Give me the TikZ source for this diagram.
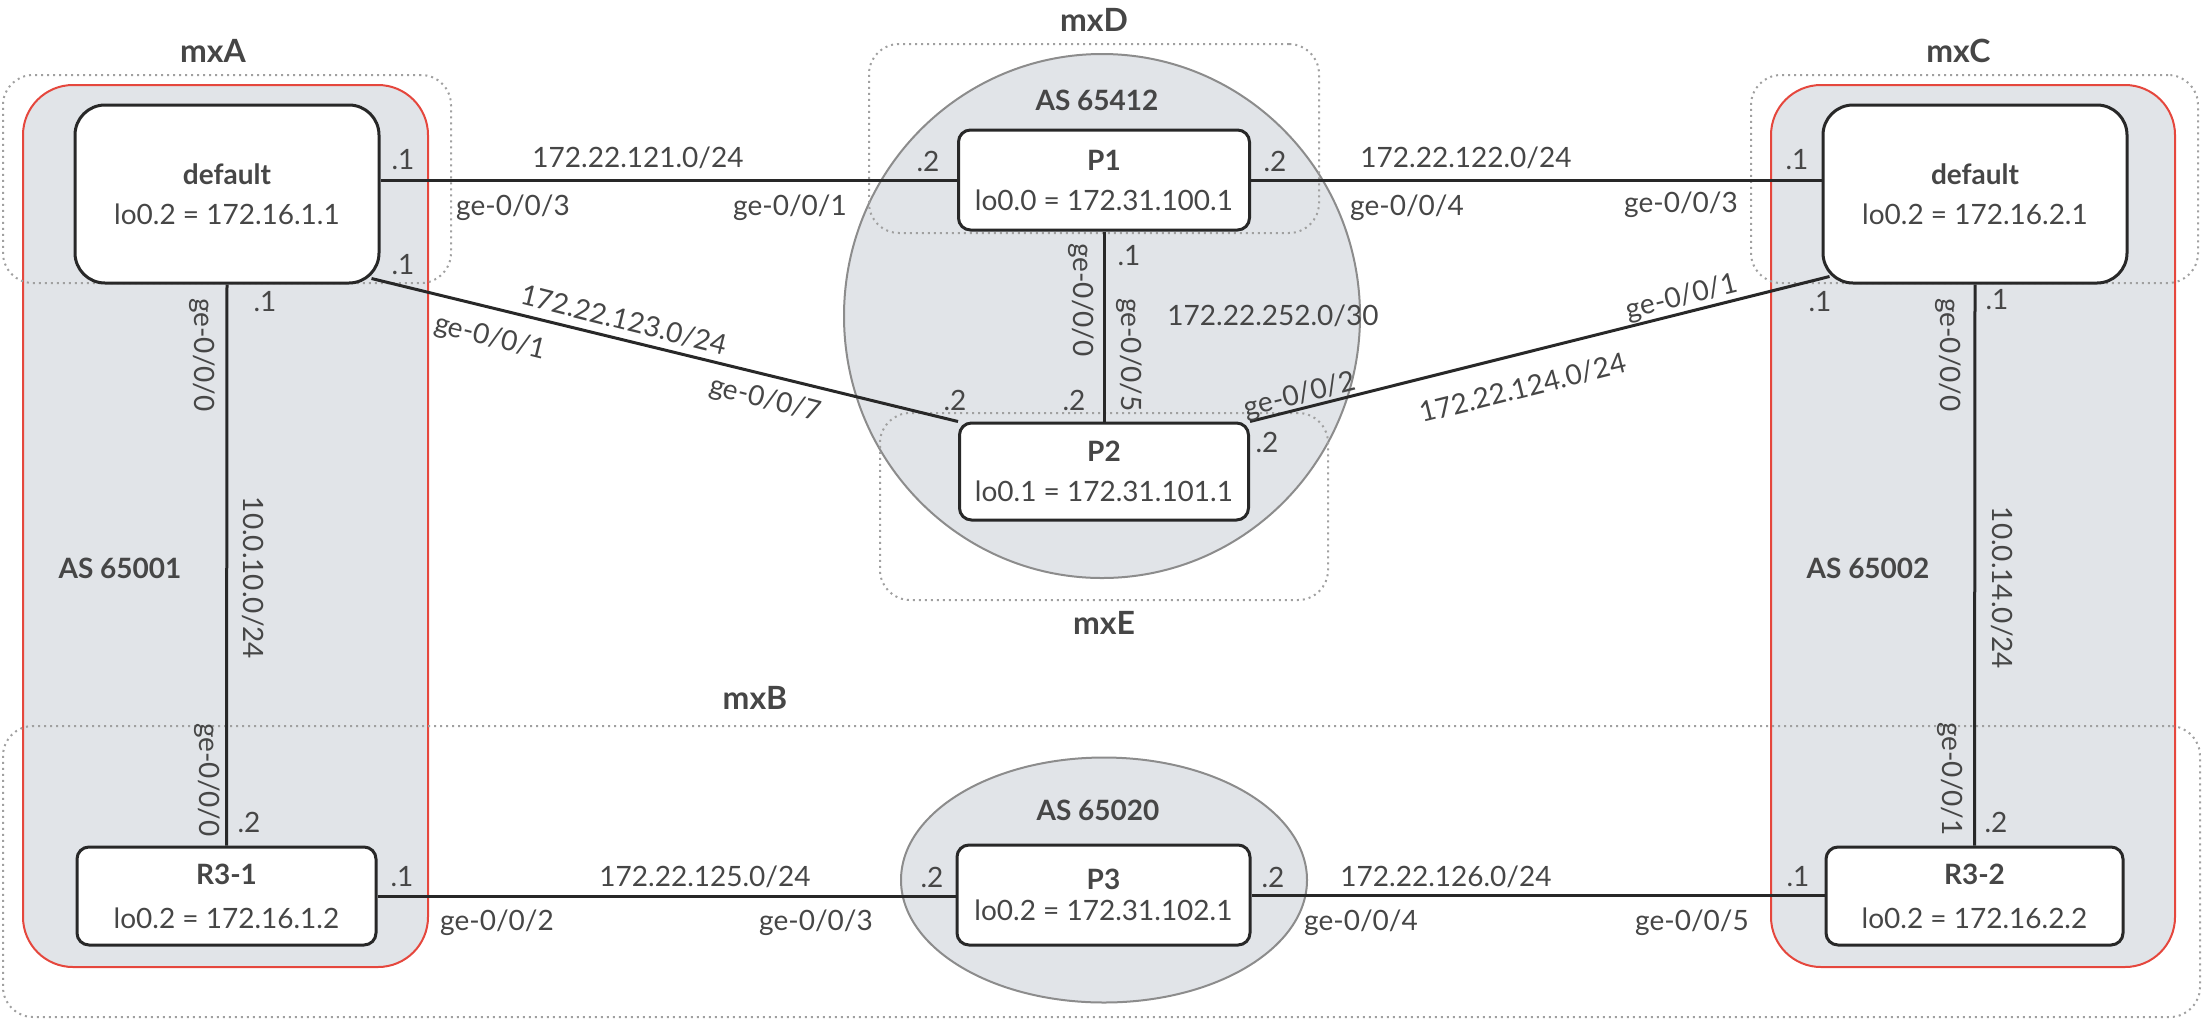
\documentclass[tikz,border=0pt]{standalone}
\usepackage{fontspec}
\setmainfont{Lato}
\usetikzlibrary{positioning,shapes.geometric}

\definecolor{asfill}{RGB}{225,228,232}
\definecolor{asred}{RGB}{229,71,61}
\definecolor{asedge}{RGB}{140,140,140}
\definecolor{mxdot}{RGB}{160,160,160}
\definecolor{txt}{RGB}{70,70,70}
\definecolor{wire}{RGB}{40,40,40}

\tikzset{
  router/.style={draw=wire, line width=1.5pt, fill=white, rounded corners=6pt,
    align=center, inner sep=0pt, text=txt, font=\fontsize{14}{17}\selectfont},
  asbox/.style={draw=asred, line width=1pt, fill=asfill, rounded corners=25pt, inner sep=0pt},
  ascircle/.style={ellipse, draw=asedge, line width=1pt, fill=asfill, inner sep=0pt},
  mxbox/.style={draw=mxdot, line width=1pt, dash pattern=on 1pt off 2pt,
    rounded corners=15pt, inner sep=0pt},
  link/.style={draw=wire, line width=1.5pt},
  lbl/.style={text=txt, font=\fontsize{14}{17}\selectfont, inner sep=0pt},
  grp/.style={text=txt, font=\bfseries\fontsize{16}{19}\selectfont, inner sep=0pt},
  asname/.style={text=txt, font=\bfseries\fontsize{14}{17}\selectfont, inner sep=0pt}
}

\begin{document}
\begin{tikzpicture}[x=0.5pt, y=-0.5pt]
  \useasboundingbox (0,0) rectangle (2206,1024);

  % AS areas
  \node[asbox, minimum width=202.5pt, minimum height=441pt] (asA) at (225.5,526) {};
  \node[asbox, minimum width=202pt, minimum height=441pt] (asC) at (1973,526) {};
  \node[ascircle, minimum width=258pt, minimum height=262pt] (asD) at (1102,316) {};
  \node[ascircle, minimum width=203pt, minimum height=122.5pt] (asB) at (1104,880) {};

  % mx groups
  \node[mxbox, minimum width=224pt, minimum height=104pt] (mxA) at (227,179) {};
  \node[mxbox, minimum width=223.5pt, minimum height=104pt] (mxC) at (1974.5,179) {};
  \node[mxbox, minimum width=225pt, minimum height=94.5pt] (mxD) at (1094,138.5) {};
  \node[mxbox, minimum width=224pt, minimum height=93.5pt] (mxE) at (1104,506.5) {};
  \node[mxbox, minimum width=1098.5pt, minimum height=145.5pt] (mxB) at (1101.5,871.5) {};

  \node[grp, above=5.5pt of mxA, xshift=-7pt] (mxAlbl) {mxA};
  \node[grp, above=5.5pt of mxC, xshift=-8pt] (mxClbl) {mxC};
  \node[grp, above=5.5pt of mxD] (mxDlbl) {mxD};
  \node[grp, below=5pt of mxE] (mxElbl) {mxE};
  \node[grp] (mxBlbl) at (755,698) {mxB};

  \node[asname] (asAlbl) at (120,568) {AS 65001};
  \node[asname] (asClbl) at (1868,568) {AS 65002};
  \node[asname] (asDlbl) at (1097,100) {AS 65412};
  \node[asname] (asBlbl) at (1098,810) {AS 65020};

  % Define nodes
  \node[router, minimum width=152pt, minimum height=89pt, rounded corners=15pt] (dfltA) at (227,194)
    {\textbf{default}\\[3pt] lo0.2 = 172.16.1.1};
  \node[router, minimum width=152pt, minimum height=89pt, rounded corners=15pt] (dfltC) at (1975,194)
    {\textbf{default}\\[3pt] lo0.2 = 172.16.2.1};
  \node[router, minimum width=145.5pt, minimum height=50pt] (P1) at (1104,180)
    {\textbf{P1}\\[3pt] lo0.0 = 172.31.100.1};
  \node[router, minimum width=144.5pt, minimum height=48.5pt] (P2) at (1104,471.5)
    {\textbf{P2}\\[3pt] lo0.1 = 172.31.101.1};
  \node[router, minimum width=146.5pt, minimum height=50pt] (P3) at (1103.5,895)
    {\textbf{P3}\\[-1.5pt] lo0.2 = 172.31.102.1};
  \node[router, minimum width=149.5pt, minimum height=49pt] (R31) at (226.5,896)
    {\textbf{R3-1}\\[5pt] lo0.2 = 172.16.1.2};
  \node[router, minimum width=148.5pt, minimum height=49pt] (R32) at (1974.5,896)
    {\textbf{R3-2}\\[5pt] lo0.2 = 172.16.2.2};

  % Connect the nodes
  \draw[link] (P1.west) -- (P1.west -| dfltA.east);
  \draw[link] (P1.east) -- (P1.east -| dfltC.west);
  \draw[link] ([shift={(-9,-6)}]dfltA.south east) -- (P2.north west);
  \draw[link] (P2.north east) -- ([shift={(8,-8)}]dfltC.south west);
  \draw[link] (P1.south) -- (P2.north);
  \draw[link] (dfltA.south) -- (R31.north);
  \draw[link] (dfltC.south) -- (R32.north);
  \draw[link] (R31.east) -- (R31.east -| P3.west);
  \draw[link] (P3.east) -- (P3.east -| R32.west);

  % mxA - P1
  \node[lbl] (apA) at (403,160) {.1};
  \node[lbl] (apNet) at (638,158) {172.22.121.0/24};
  \node[lbl] (apIfA) at (513,208) {ge-0/0/3};
  \node[lbl] (apIfP) at (790,208) {ge-0/0/1};
  \node[lbl] (apP) at (928,161) {.2};

  % P1 - mxC
  \node[lbl] (pcP) at (1275,161) {.2};
  \node[lbl] (pcNet) at (1466,158) {172.22.122.0/24};
  \node[lbl] (pcIfP) at (1407,208) {ge-0/0/4};
  \node[lbl] (pcIfC) at (1681,205) {ge-0/0/3};
  \node[lbl] (pcC) at (1797,160) {.1};

  % mxA - P2
  \node[lbl] (aqA) at (403,265) {.1};
  \node[lbl, rotate=-14] (aqIfA) at (490,338) {ge-0/0/1};
  \node[lbl, rotate=-14] (aqNet) at (624,320) {172.22.123.0/24};
  \node[lbl, rotate=-14] (aqIfP) at (765,400) {ge-0/0/7};
  \node[lbl] (aqP) at (955,400) {.2};

  % P1 - P2
  \node[lbl, rotate=-90] (ppIfA) at (1081,300) {ge-0/0/0};
  \node[lbl] (ppA) at (1129,256) {.1};
  \node[lbl, rotate=-90] (ppIfB) at (1129,355) {ge-0/0/5};
  \node[lbl] (ppNet) at (1273,316) {172.22.252.0/30};
  \node[lbl] (ppB) at (1074,400) {.2};

  % P2 - mxC
  \node[lbl, rotate=14] (qcIfP) at (1300,396) {ge-0/0/2};
  \node[lbl] (qcP) at (1267,442) {.2};
  \node[lbl, rotate=14] (qcNet) at (1523,388) {172.22.124.0/24};
  \node[lbl, rotate=14] (qcIfC) at (1682,298) {ge-0/0/1};
  \node[lbl] (qcC) at (1820,302) {.1};

  % mxA - R3-1
  \node[lbl, rotate=-90] (arIfA) at (202,355) {ge-0/0/0};
  \node[lbl] (arA) at (265,302) {.1};
  \node[lbl, rotate=-90] (arNet) at (253,578) {10.0.10.0/24};
  \node[lbl, rotate=-90] (arIfR) at (207,780) {ge-0/0/0};
  \node[lbl] (arR) at (249,822) {.2};

  % mxC - R3-2
  \node[lbl, rotate=-90] (crIfC) at (1948,355) {ge-0/0/0};
  \node[lbl] (crC) at (1997,300) {.1};
  \node[lbl, rotate=-90] (crNet) at (2002,588) {10.0.14.0/24};
  \node[lbl, rotate=-90] (crIfR) at (1950,779) {ge-0/0/1};
  \node[lbl] (crR) at (1996,822) {.2};

  % R3-1 - P3
  \node[lbl] (rpR) at (402,877) {.1};
  \node[lbl] (rpNet) at (705,877) {172.22.125.0/24};
  \node[lbl] (rpIfR) at (497,923) {ge-0/0/2};
  \node[lbl] (rpIfP) at (816,923) {ge-0/0/3};
  \node[lbl] (rpP) at (932,877) {.2};

  % P3 - R3-2
  \node[lbl] (prP) at (1273,877) {.2};
  \node[lbl] (prNet) at (1446,877) {172.22.126.0/24};
  \node[lbl] (prIfP) at (1361,923) {ge-0/0/4};
  \node[lbl] (prIfR) at (1692,923) {ge-0/0/5};
  \node[lbl] (prR) at (1798,877) {.1};

\end{tikzpicture}
\end{document}
